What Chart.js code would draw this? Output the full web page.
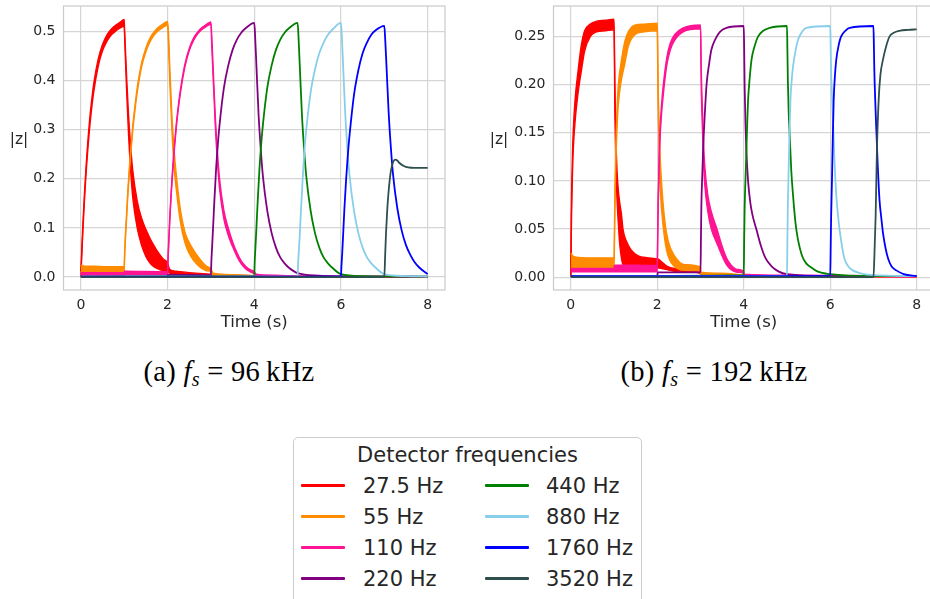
<!DOCTYPE html>
<html lang="en">
<head>
<meta charset="utf-8">
<title>Detector frequencies</title>
<script src="https://cdn.jsdelivr.net/npm/chart.js@4.4.1/dist/chart.umd.min.js"></script>
<style>
  html, body { margin: 0; padding: 0; background: #fff; }
  #lienzo { position: relative; width: 930px; height: 599px; overflow: hidden; background: #fff;
            font-family: "DejaVu Sans", sans-serif; color: #262626; }
  #graficoA { position: absolute; left: 0; top: 0; }
  #graficoB { position: absolute; left: 465px; top: 0; }
  .etiquetaY { position: absolute; top: 140px; font-size: 15.5px; line-height: 1; transform: translate(-50%, -50%); white-space: nowrap; }
  .pie { position: absolute; top: 372px; font-family: "Liberation Serif", serif; font-size: 28.5px; line-height: 1;
         color: #000; transform: translate(-50%, -50%); white-space: nowrap; letter-spacing: 0.3px; }
  .pie sub { font-size: 0.7em; vertical-align: -0.25em; line-height: 0; }
  #leyenda { position: absolute; left: 293px; top: 437px; width: 349px; height: 190px; border: 1px solid #cccccc;
             border-radius: 5px; box-sizing: border-box; background: #fff; }
  #tituloLeyenda { position: absolute; left: 0; right: 0; top: 4px; text-align: center; font-size: 21px; line-height: 26px; }
  .muestra { position: absolute; width: 44px; height: 3px; border-radius: 1px; }
  .textoLeyenda { position: absolute; font-size: 21px; line-height: 24px; white-space: nowrap; }
</style>
</head>
<body>
<div id="lienzo">
  <canvas id="graficoA" width="460" height="340"></canvas>
  <canvas id="graficoB" width="475" height="340"></canvas>
  <div class="etiquetaY" style="left:19px">|z|</div>
  <div class="etiquetaY" style="left:499px">|z|</div>
  <div class="pie" style="left:229px">(a) <i>f</i><sub><i>s</i></sub> = 96&thinsp;kHz</div>
  <div class="pie" style="left:714px">(b) <i>f</i><sub><i>s</i></sub> = 192&thinsp;kHz</div>
  <div id="leyenda"><div id="tituloLeyenda">Detector frequencies</div></div>
</div>
<script>
// Frecuencias de los detectores y colores de cada serie
const frecuencias = ['27.5 Hz', '55 Hz', '110 Hz', '220 Hz', '440 Hz', '880 Hz', '1760 Hz', '3520 Hz'];
const colores = ['#ff0000', '#ff8c00', '#ff1493', '#800080', '#008000', '#87ceeb', '#0000ff', '#2f4f4f'];

// Ticks de los ejes
const ticksTiempo = [0, 2, 4, 6, 8];
const ticksA = [0, 0.1, 0.2, 0.3, 0.4, 0.5];
const ticksB = [0, 0.05, 0.10, 0.15, 0.20, 0.25];

// ---- (a) fs = 96 kHz ----
// 27.5 Hz (banda: borde alto y borde bajo)
const tA_27 = [0, 0.01, 0.03, 0.05, 0.08, 0.12, 0.16, 0.2, 0.25, 0.3, 0.4, 0.5, 0.6, 0.7, 0.8, 0.9, 1.0,
  1.01, 1.03, 1.06, 1.1, 1.15, 1.2, 1.3, 1.4, 1.5, 1.6, 1.7, 1.8, 1.9, 2.0,
  2.05, 2.2, 2.5, 3.0, 4.0, 5.0, 6.0, 7.0, 8.0];
const zA_27_alto = [0.012, 0.03, 0.075, 0.112, 0.165, 0.225, 0.275, 0.318, 0.36, 0.395, 0.443, 0.473, 0.492, 0.504, 0.512, 0.518, 0.524,
  0.5, 0.46, 0.4, 0.33, 0.265, 0.215, 0.155, 0.12, 0.097, 0.078, 0.062, 0.048, 0.037, 0.029,
  0.016, 0.012, 0.009, 0.006, 0.003, 0.002, 0.001, 0.001, 0.001];
const zA_27_bajo = [0.0, 0.02, 0.06, 0.098, 0.15, 0.21, 0.258, 0.3, 0.343, 0.378, 0.428, 0.46, 0.479, 0.492, 0.5, 0.506, 0.51,
  0.49, 0.44, 0.37, 0.29, 0.215, 0.16, 0.1, 0.065, 0.042, 0.028, 0.02, 0.016, 0.013, 0.012,
  0.008, 0.006, 0.004, 0.003, 0.001, 0.001, 0.0, 0.0, 0.0];
// 55 Hz
const tA_55 = [0, 0.05, 0.1, 0.3, 0.6, 1.0,
  1.01, 1.03, 1.05, 1.08, 1.12, 1.16, 1.2, 1.25, 1.3, 1.4, 1.5, 1.6, 1.7, 1.8, 1.9, 2.0,
  2.02, 2.05, 2.1, 2.15, 2.2, 2.3, 2.4, 2.5, 2.6, 2.7, 2.8, 2.9, 3.0,
  3.05, 3.5, 4.0, 5.0, 6.0, 7.0, 8.0];
const zA_55_alto = [0.024, 0.023, 0.022, 0.022, 0.021, 0.021,
  0.05, 0.09, 0.12, 0.17, 0.225, 0.27, 0.31, 0.35, 0.385, 0.435, 0.466, 0.487, 0.5, 0.509, 0.515, 0.52,
  0.5, 0.43, 0.33, 0.26, 0.21, 0.135, 0.092, 0.07, 0.055, 0.042, 0.031, 0.022, 0.017,
  0.008, 0.005, 0.003, 0.002, 0.001, 0.001, 0.001];
const zA_55_bajo = [0.011, 0.011, 0.011, 0.011, 0.01, 0.01,
  0.04, 0.08, 0.11, 0.16, 0.215, 0.26, 0.3, 0.34, 0.375, 0.427, 0.458, 0.479, 0.493, 0.502, 0.508, 0.512,
  0.48, 0.4, 0.3, 0.225, 0.18, 0.11, 0.07, 0.048, 0.034, 0.024, 0.017, 0.013, 0.011,
  0.004, 0.003, 0.002, 0.001, 0.0, 0.0, 0.0];
// 110 Hz
const tA_110 = [0, 1.0, 1.01, 2.0,
  2.01, 2.03, 2.05, 2.08, 2.12, 2.16, 2.2, 2.25, 2.3, 2.4, 2.5, 2.6, 2.7, 2.8, 2.9, 3.0,
  3.02, 3.05, 3.1, 3.15, 3.2, 3.3, 3.4, 3.5, 3.6, 3.7, 3.8, 3.9, 4.0,
  4.05, 4.5, 5.0, 6.0, 7.0, 8.0];
const zA_110_alto = [0.009, 0.009, 0.012, 0.011,
  0.04, 0.08, 0.12, 0.17, 0.225, 0.27, 0.31, 0.35, 0.383, 0.433, 0.465, 0.486, 0.499, 0.508, 0.514, 0.519,
  0.49, 0.43, 0.33, 0.255, 0.2, 0.135, 0.1, 0.072, 0.05, 0.033, 0.022, 0.015, 0.011,
  0.006, 0.004, 0.002, 0.001, 0.001, 0.001];
const zA_110_bajo = [0.004, 0.004, 0.005, 0.005,
  0.03, 0.07, 0.11, 0.16, 0.215, 0.262, 0.302, 0.343, 0.376, 0.427, 0.46, 0.481, 0.495, 0.504, 0.51, 0.514,
  0.47, 0.41, 0.31, 0.235, 0.18, 0.118, 0.085, 0.062, 0.042, 0.027, 0.017, 0.011, 0.007,
  0.003, 0.002, 0.001, 0.0, 0.0, 0.0];
// 220 Hz
const tA_220 = [0, 2.0, 2.01, 3.0, 3.01, 3.03, 3.05, 3.08, 3.12, 3.16, 3.2, 3.3, 3.4, 3.5, 3.6, 3.7, 3.8, 4.0,
  4.02, 4.05, 4.1, 4.15, 4.2, 4.3, 4.4, 4.5, 4.6, 4.7, 4.8, 5.0, 5.5, 6.0, 8.0];
const zA_220 = [0.001, 0.001, 0.005, 0.004, 0.03, 0.065, 0.1, 0.155, 0.22, 0.27, 0.31, 0.385, 0.43, 0.462, 0.483, 0.497, 0.506, 0.517,
  0.49, 0.43, 0.33, 0.26, 0.205, 0.135, 0.09, 0.06, 0.04, 0.028, 0.019, 0.008, 0.003, 0.002, 0.001];
// 440 Hz
const tA_440 = [0, 4.0, 4.01, 4.03, 4.05, 4.08, 4.12, 4.16, 4.2, 4.3, 4.4, 4.5, 4.6, 4.7, 4.8, 5.0,
  5.02, 5.05, 5.1, 5.15, 5.2, 5.3, 5.4, 5.5, 5.6, 5.7, 5.8, 6.0, 6.5, 8.0];
const zA_440 = [0.001, 0.002, 0.03, 0.065, 0.1, 0.155, 0.22, 0.27, 0.31, 0.385, 0.43, 0.462, 0.483, 0.497, 0.506, 0.517,
  0.49, 0.43, 0.33, 0.26, 0.205, 0.135, 0.09, 0.06, 0.04, 0.028, 0.019, 0.006, 0.002, 0.001];
// 880 Hz
const tA_880 = [0, 5.0, 5.01, 5.03, 5.05, 5.08, 5.12, 5.16, 5.2, 5.3, 5.4, 5.5, 5.6, 5.7, 5.8, 6.0,
  6.02, 6.05, 6.1, 6.15, 6.2, 6.3, 6.4, 6.5, 6.6, 6.7, 6.8, 7.0, 7.5, 8.0];
const zA_880 = [0.001, 0.001, 0.025, 0.055, 0.085, 0.14, 0.205, 0.26, 0.3, 0.375, 0.422, 0.455, 0.477, 0.493, 0.503, 0.517,
  0.49, 0.43, 0.33, 0.26, 0.205, 0.135, 0.09, 0.06, 0.04, 0.028, 0.019, 0.006, 0.002, 0.001];
// 1760 Hz
const tA_1760 = [0, 6.0, 6.01, 6.03, 6.05, 6.08, 6.12, 6.16, 6.2, 6.3, 6.4, 6.5, 6.6, 6.7, 6.8, 7.0,
  7.02, 7.05, 7.1, 7.15, 7.2, 7.3, 7.4, 7.5, 7.6, 7.7, 7.8, 8.0];
const zA_1760 = [0.001, 0.001, 0.02, 0.05, 0.085, 0.14, 0.2, 0.25, 0.29, 0.37, 0.42, 0.455, 0.477, 0.493, 0.502, 0.511,
  0.485, 0.43, 0.335, 0.265, 0.21, 0.14, 0.095, 0.065, 0.045, 0.03, 0.02, 0.006];
// 3520 Hz
const tA_3520 = [0, 7.0, 7.02, 7.04, 7.07, 7.1, 7.15, 7.2, 7.25, 7.3, 7.35, 7.45, 7.55, 7.7, 8.0];
const zA_3520 = [0.0, 0.0, 0.045, 0.09, 0.14, 0.175, 0.215, 0.233, 0.239, 0.237, 0.232, 0.226, 0.223, 0.222, 0.222];

// ---- (b) fs = 192 kHz ----
const tB_27 = [0, 0.01, 0.02, 0.04, 0.06, 0.1, 0.17, 0.24, 0.32, 0.45, 0.6, 0.8, 1.0,
  1.01, 1.02, 1.04, 1.07, 1.1, 1.13, 1.17, 1.21, 1.29, 1.4, 1.56, 1.79, 2.0,
  2.01, 2.1, 2.2, 2.4, 3.0, 3.01, 4.0, 5.0, 8.0];
const zB_27_alto = [0.0, 0.06, 0.09, 0.13, 0.155, 0.185, 0.215, 0.24, 0.256, 0.263, 0.266, 0.267, 0.268,
  0.24, 0.2, 0.15, 0.11, 0.09, 0.078, 0.066, 0.049, 0.037, 0.028, 0.022, 0.02, 0.019,
  0.019, 0.016, 0.012, 0.009, 0.007, 0.003, 0.002, 0.001, 0.001];
const zB_27_bajo = [0.0, 0.04, 0.07, 0.11, 0.135, 0.162, 0.192, 0.213, 0.235, 0.25, 0.255, 0.256, 0.257,
  0.22, 0.17, 0.12, 0.08, 0.055, 0.035, 0.02, 0.013, 0.012, 0.012, 0.012, 0.012, 0.012,
  0.01, 0.009, 0.008, 0.006, 0.004, 0.001, 0.001, 0.0, 0.0];
const tB_55 = [0, 0.05, 0.1, 0.5, 1.0,
  1.01, 1.02, 1.04, 1.07, 1.1, 1.17, 1.25, 1.33, 1.48, 1.7, 2.0,
  2.01, 2.02, 2.04, 2.06, 2.1, 2.17, 2.25, 2.4, 2.63, 3.0,
  3.01, 3.5, 4.0, 5.0, 8.0];
const zB_55_alto = [0.025, 0.022, 0.021, 0.02, 0.02,
  0.05, 0.09, 0.135, 0.175, 0.2, 0.225, 0.245, 0.255, 0.262, 0.263, 0.264,
  0.24, 0.2, 0.16, 0.132, 0.098, 0.06, 0.038, 0.022, 0.013, 0.0105,
  0.005, 0.004, 0.002, 0.001, 0.001];
const zB_55_bajo = [0.009, 0.009, 0.009, 0.009, 0.009,
  0.035, 0.07, 0.115, 0.155, 0.18, 0.205, 0.222, 0.24, 0.252, 0.255, 0.256,
  0.22, 0.18, 0.13, 0.1, 0.07, 0.04, 0.022, 0.011, 0.007, 0.006,
  0.002, 0.002, 0.001, 0.0, 0.0];
const tB_110 = [0, 1.0, 1.01, 2.0,
  2.01, 2.02, 2.04, 2.06, 2.1, 2.14, 2.22, 2.3, 2.4, 2.6, 3.0,
  3.01, 3.02, 3.04, 3.07, 3.1, 3.17, 3.25, 3.38, 3.5, 3.6, 3.7, 3.85, 4.0,
  4.01, 5.0, 8.0];
const zB_110_alto = [0.009, 0.009, 0.0125, 0.012,
  0.05, 0.08, 0.12, 0.15, 0.18, 0.2, 0.228, 0.243, 0.252, 0.259, 0.262,
  0.24, 0.21, 0.18, 0.14, 0.115, 0.085, 0.068, 0.05, 0.032, 0.02, 0.013, 0.008, 0.006,
  0.003, 0.002, 0.001];
const zB_110_bajo = [0.0055, 0.0055, 0.0055, 0.0055,
  0.04, 0.07, 0.11, 0.14, 0.17, 0.19, 0.22, 0.236, 0.246, 0.255, 0.258,
  0.22, 0.19, 0.16, 0.12, 0.095, 0.068, 0.05, 0.035, 0.022, 0.013, 0.008, 0.005, 0.004,
  0.001, 0.001, 0.0];
const tB_220 = [0, 2.0, 2.01, 3.0, 3.01, 3.02, 3.04, 3.06, 3.1, 3.14, 3.2, 3.25, 3.35, 3.45, 3.6, 4.0,
  4.01, 4.02, 4.04, 4.06, 4.1, 4.15, 4.2, 4.29, 4.4, 4.5, 4.65, 4.8, 5.0, 6.0, 8.0];
const zB_220 = [0.001, 0.001, 0.005, 0.005, 0.04, 0.075, 0.105, 0.132, 0.17, 0.2, 0.222, 0.236, 0.248, 0.255, 0.259, 0.261,
  0.235, 0.2, 0.16, 0.132, 0.1, 0.078, 0.065, 0.05, 0.032, 0.02, 0.011, 0.006, 0.003, 0.001, 0.001];
const tB_440 = [0, 4.0, 4.01, 4.02, 4.05, 4.08, 4.1, 4.14, 4.18, 4.25, 4.33, 4.45, 4.6, 5.0,
  5.01, 5.02, 5.04, 5.06, 5.1, 5.14, 5.2, 5.25, 5.35, 5.45, 5.53, 5.7, 6.0, 7.0, 8.0];
const zB_440 = [0.001, 0.002, 0.04, 0.07, 0.115, 0.16, 0.184, 0.208, 0.226, 0.24, 0.25, 0.256, 0.259, 0.261,
  0.235, 0.205, 0.17, 0.15, 0.11, 0.085, 0.055, 0.04, 0.022, 0.014, 0.011, 0.006, 0.003, 0.001, 0.001];
const tB_880 = [0, 5.0, 5.01, 5.02, 5.04, 5.06, 5.08, 5.11, 5.14, 5.2, 5.25, 5.35, 5.45, 6.0,
  6.01, 6.02, 6.04, 6.06, 6.1, 6.14, 6.18, 6.22, 6.28, 6.33, 6.42, 6.52, 6.7, 7.0, 8.0];
const zB_880 = [0.001, 0.001, 0.04, 0.075, 0.115, 0.152, 0.184, 0.205, 0.219, 0.236, 0.246, 0.255, 0.259, 0.261,
  0.24, 0.215, 0.19, 0.167, 0.12, 0.085, 0.064, 0.048, 0.03, 0.019, 0.011, 0.007, 0.004, 0.002, 0.001];
const tB_1760 = [0, 6.0, 6.01, 6.02, 6.04, 6.06, 6.08, 6.11, 6.14, 6.2, 6.25, 6.35, 6.45, 7.0,
  7.01, 7.02, 7.04, 7.06, 7.1, 7.14, 7.18, 7.22, 7.28, 7.34, 7.42, 7.53, 7.7, 8.0];
const zB_1760 = [0.001, 0.001, 0.03, 0.06, 0.1, 0.145, 0.184, 0.21, 0.226, 0.242, 0.25, 0.256, 0.259, 0.261,
  0.24, 0.215, 0.185, 0.16, 0.115, 0.08, 0.062, 0.046, 0.03, 0.019, 0.011, 0.007, 0.003, 0.001];
const tB_3520 = [0, 7.0, 7.02, 7.05, 7.08, 7.12, 7.16, 7.22, 7.3, 7.37, 7.47, 7.6, 7.8, 8.0];
const zB_3520 = [0.0, 0.0, 0.02, 0.063, 0.132, 0.184, 0.21, 0.226, 0.241, 0.25, 0.254, 0.256, 0.257, 0.2575];

// Convierte arrays de tiempo y valor en puntos {x, y}
const puntos = (t, z) => t.map((x, i) => ({ x: x, y: z[i] }));

// Serie con rizado: se dibuja el borde alto y el bajo, rellenando entre ambos
function banda(i, t, alto, bajo) {
  return [
    { label: frecuencias[i], data: puntos(t, alto), borderColor: colores[i], borderWidth: 1.4, fill: false },
    { label: frecuencias[i], data: puntos(t, bajo), borderColor: colores[i], borderWidth: 1.4, fill: '-1', backgroundColor: colores[i] }
  ];
}
function linea(i, t, z) {
  return [{ label: frecuencias[i], data: puntos(t, z), borderColor: colores[i], borderWidth: 1.8, fill: false }];
}

const datosA = [
  ...banda(0, tA_27, zA_27_alto, zA_27_bajo),
  ...banda(1, tA_55, zA_55_alto, zA_55_bajo),
  ...banda(2, tA_110, zA_110_alto, zA_110_bajo),
  ...linea(3, tA_220, zA_220),
  ...linea(4, tA_440, zA_440),
  ...linea(5, tA_880, zA_880),
  ...linea(6, tA_1760, zA_1760),
  ...linea(7, tA_3520, zA_3520)
];
const datosB = [
  ...banda(0, tB_27, zB_27_alto, zB_27_bajo),
  ...banda(1, tB_55, zB_55_alto, zB_55_bajo),
  ...banda(2, tB_110, zB_110_alto, zB_110_bajo),
  ...linea(3, tB_220, zB_220),
  ...linea(4, tB_440, zB_440),
  ...linea(5, tB_880, zB_880),
  ...linea(6, tB_1760, zB_1760),
  ...linea(7, tB_3520, zB_3520)
];
// La primera serie queda debajo, como en matplotlib
[datosA, datosB].forEach(lista => lista.forEach((d, k) => { d.order = lista.length - k; }));

// Marco gris alrededor del área de datos (estilo seaborn whitegrid)
const marco = {
  id: 'marco',
  beforeDatasetsDraw(chart) {
    const { ctx, chartArea: a } = chart;
    ctx.save();
    ctx.strokeStyle = '#cccccc';
    ctx.lineWidth = 1.25;
    ctx.strokeRect(a.left, a.top, a.right - a.left, a.bottom - a.top);
    ctx.restore();
  }
};

const fuente = 'DejaVu Sans';
const gris = '#262626';

// Quita el relleno automático que Chart.js reserva para las etiquetas de los extremos
function sinRelleno(s) {
  s.paddingTop = 0; s.paddingBottom = 0; s.paddingLeft = 0; s.paddingRight = 0;
}

function crearGrafico(id, datasets, yMin, yMax, yTicks, decimales, anchoEjeY, rellenoDerecho) {
  const ctx = document.getElementById(id).getContext('2d');
  new Chart(ctx, {
    type: 'line',
    data: { datasets: datasets },
    options: {
      responsive: false,
      animation: false,
      layout: { padding: { top: 6, right: rellenoDerecho, left: 0, bottom: 0 } },
      plugins: { legend: { display: false }, tooltip: { enabled: false } },
      elements: {
        point: { radius: 0 },
        line: { cubicInterpolationMode: 'monotone', borderCapStyle: 'butt' }
      },
      scales: {
        x: {
          type: 'linear', min: -0.4, max: 8.4,
          afterBuildTicks: s => { s.ticks = ticksTiempo.map(v => ({ value: v })); },
          afterFit: s => { s.height = 50; sinRelleno(s); },
          grid: { color: '#d5d5d5', lineWidth: 1.2, drawTicks: false },
          border: { display: false },
          ticks: { padding: 7, color: gris, font: { family: fuente, size: 14 }, callback: v => String(v) },
          title: { display: true, text: 'Time (s)', color: gris, font: { family: fuente, size: 16.5 }, padding: { top: 0, bottom: 7 } }
        },
        y: {
          type: 'linear', min: yMin, max: yMax,
          afterBuildTicks: s => { s.ticks = yTicks.map(v => ({ value: v })); },
          afterFit: s => { s.width = anchoEjeY; sinRelleno(s); },
          grid: { color: '#d5d5d5', lineWidth: 1.2, drawTicks: false },
          border: { display: false },
          ticks: { padding: 8, color: gris, font: { family: fuente, size: 14 }, callback: v => v.toFixed(decimales) }
        }
      }
    },
    plugins: [marco]
  });
}

// Leyenda compartida en dos columnas
function crearLeyenda() {
  const caja = document.getElementById('leyenda');
  frecuencias.forEach((f, i) => {
    const col = i < 4 ? 0 : 1;
    const fila = i % 4;
    const yc = 47.5 + fila * 31;
    const m = document.createElement('div');
    m.className = 'muestra';
    m.style.left = (col ? 191 : 7) + 'px';
    m.style.top = (yc - 1.5) + 'px';
    m.style.background = colores[i];
    caja.appendChild(m);
    const t = document.createElement('div');
    t.className = 'textoLeyenda';
    t.style.left = (col ? 252 : 69) + 'px';
    t.style.top = (yc - 12) + 'px';
    t.textContent = f;
    caja.appendChild(t);
  });
}

document.addEventListener('DOMContentLoaded', function() {
  crearGrafico('graficoA', datosA, -0.02625, 0.55125, ticksA, 1, 63.5, 15);
  crearGrafico('graficoB', datosB, -0.0134, 0.2818, ticksB, 2, 88.5, 6);
  crearLeyenda();
});
</script>
</body>
</html>
